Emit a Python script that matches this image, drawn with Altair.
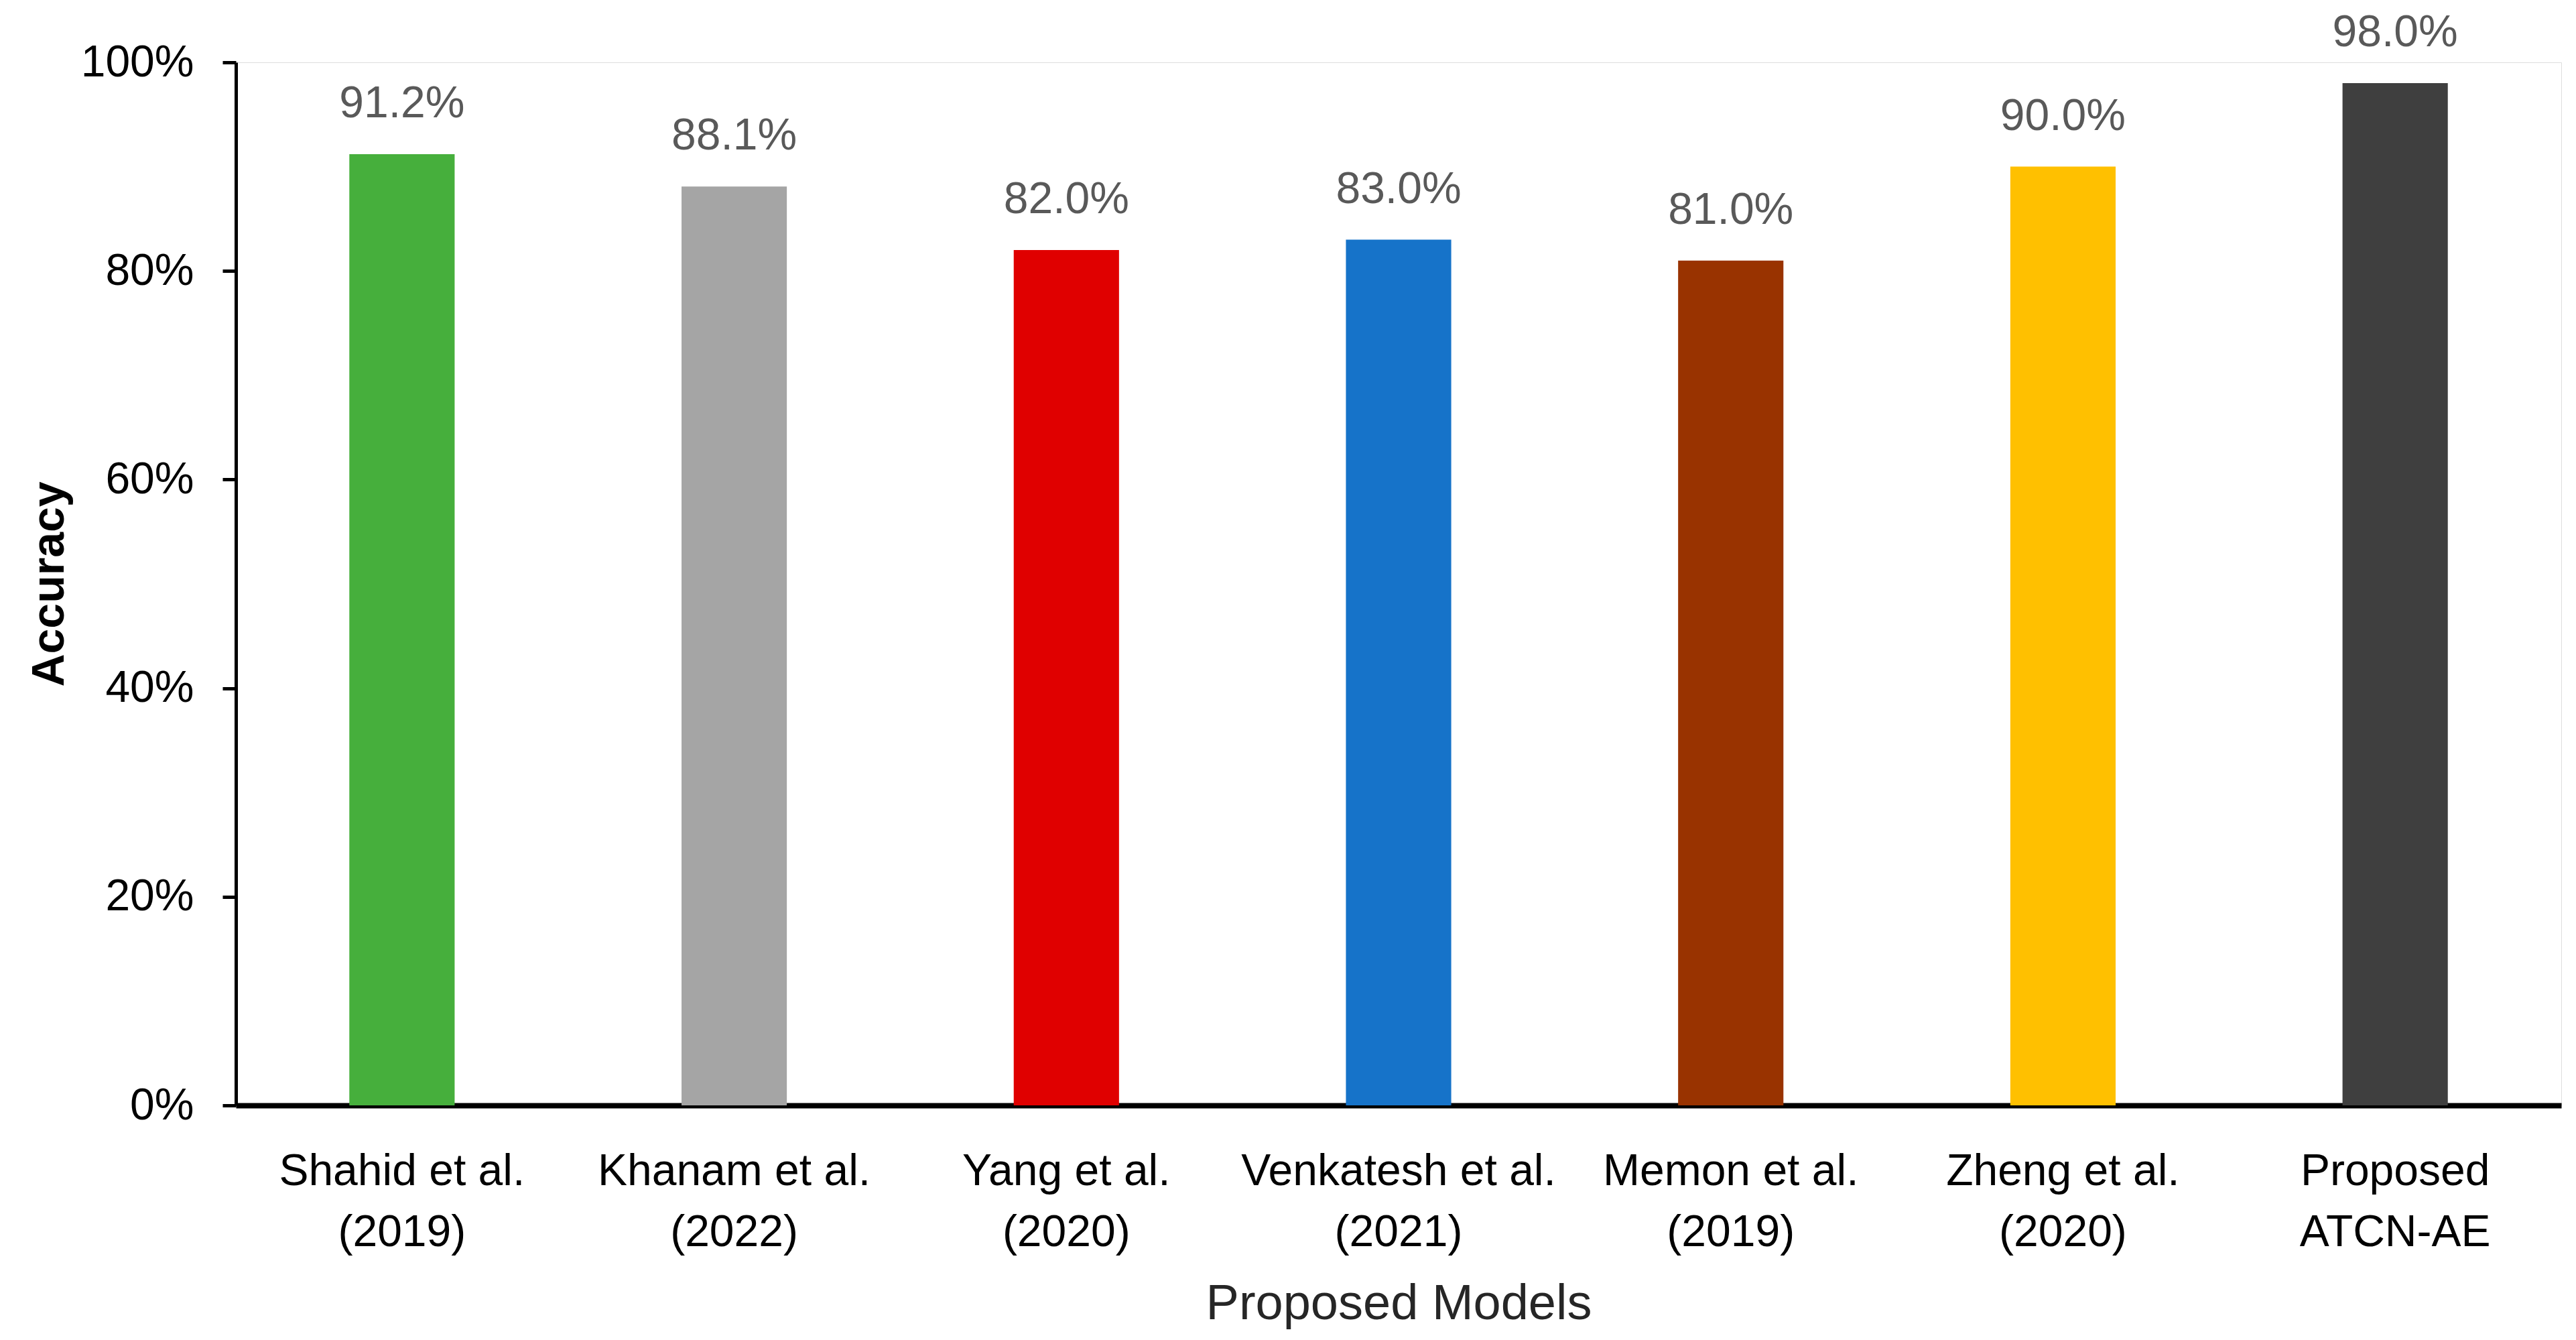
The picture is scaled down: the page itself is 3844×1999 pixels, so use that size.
import altair as alt
import pandas as pd

models = [
    "Shahid et al.\n(2019)",
    "Khanam et al.\n(2022)",
    "Yang et al.\n(2020)",
    "Venkatesh et al.\n(2021)",
    "Memon et al.\n(2019)",
    "Zheng et al.\n(2020)",
    "Proposed\nATCN-AE",
]
accuracy = [0.912, 0.881, 0.820, 0.830, 0.810, 0.900, 0.980]
colors = ["#46AF3C", "#A5A5A5", "#E00000", "#1673C9", "#993300", "#FFC000", "#3F3F3F"]
y_ticks = [0.0, 0.2, 0.4, 0.6, 0.8, 1.0]

df = pd.DataFrame({"model": models, "accuracy": accuracy, "color": colors})

FONT = "Liberation Sans"

x_enc = alt.X(
    "model:N",
    sort=models,
    title="Proposed Models",
    scale=alt.Scale(paddingInner=0.683, paddingOuter=0.3415),
    axis=alt.Axis(
        labelExpr="split(datum.label, '\\n')",
        labelAngle=0,
        labelFont=FONT,
        labelFontSize=66,
        labelColor="#000000",
        labelLineHeight=91,
        labelPadding=66,
        labelLimit=0,
        ticks=False,
        domainColor="#000000",
        domainWidth=8,
        titleFont=FONT,
        titleFontSize=74,
        titleFontWeight="normal",
        titleColor="#262626",
        titlePadding=60,
    ),
)

y_enc = alt.Y(
    "accuracy:Q",
    title="Accuracy",
    scale=alt.Scale(domain=[0, 1], nice=False),
    axis=alt.Axis(
        values=y_ticks,
        format=".0%",
        grid=False,
        labelFont=FONT,
        labelFontSize=66,
        labelColor="#000000",
        labelPadding=43,
        tickSize=20,
        tickWidth=5,
        tickColor="#000000",
        domainColor="#000000",
        domainWidth=5,
        titleFont=FONT,
        titleFontSize=68,
        titleFontWeight="bold",
        titleColor="#000000",
        titlePadding=44,
    ),
)

bars = alt.Chart(df).mark_bar().encode(
    x=x_enc,
    y=y_enc,
    color=alt.Color("color:N", scale=None),
)

labels = alt.Chart(df).mark_text(
    font=FONT, fontSize=66, color="#595959", baseline="alphabetic", dy=-55
).encode(
    x=alt.X("model:N", sort=models),
    y=alt.Y("accuracy:Q"),
    text=alt.Text("accuracy:Q", format=".1%"),
)

chart = (
    alt.layer(bars, labels)
    .properties(
        width=3470,
        height=1556,
        autosize=alt.AutoSizeParams(type="none"),
        padding={"left": 344, "top": 85, "right": 14, "bottom": 340},
    )
    .configure_view(stroke="transparent", strokeWidth=0)
    .configure(background="#ffffff")
)

chart.save("out.html", embed_options={"renderer": "svg", "actions": False})
